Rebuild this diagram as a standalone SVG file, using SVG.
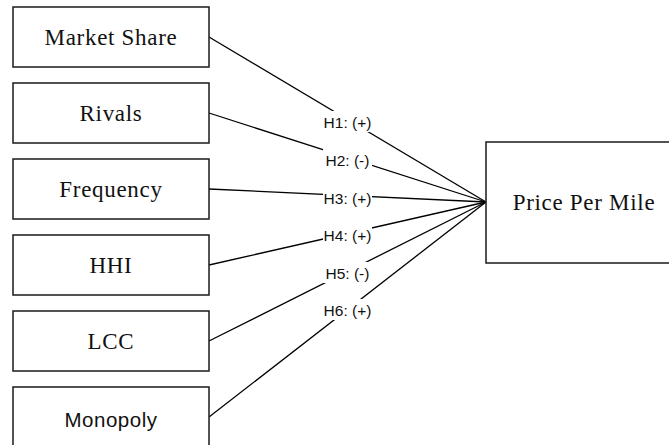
<svg xmlns="http://www.w3.org/2000/svg" width="669" height="445" viewBox="0 0 669 445">
<style>
.box{fill:#fff;stroke:#1a1a1a;stroke-width:1.5}
.t{font-family:"Liberation Serif","Times New Roman",serif;font-size:23px;letter-spacing:0.7px;text-anchor:middle;fill:#111}
.s{font-family:"Liberation Sans",Arial,sans-serif;font-size:20.5px;letter-spacing:0.5px;text-anchor:middle;fill:#111}
.c{stroke:#000;stroke-width:1.3;fill:none}
.lb{fill:#fff}
.l{font-family:"Liberation Sans",Arial,sans-serif;font-size:15.5px;text-anchor:middle;fill:#111}
</style>
<rect width="669" height="445" fill="#fff"/>
<g id="connectors">
<line class="c" x1="209" y1="37" x2="486" y2="202"/>
<line class="c" x1="209" y1="113" x2="486" y2="202"/>
<line class="c" x1="209" y1="189" x2="486" y2="202"/>
<line class="c" x1="209" y1="265" x2="486" y2="202"/>
<line class="c" x1="209" y1="341" x2="486" y2="202"/>
<line class="c" x1="209" y1="417" x2="486" y2="202"/>
<rect class="lb" x="323" y="111" width="49" height="21"/>
<rect class="lb" x="323" y="149" width="49" height="21"/>
<rect class="lb" x="323" y="187" width="49" height="21"/>
<rect class="lb" x="323" y="224" width="49" height="21"/>
<rect class="lb" x="323" y="262" width="49" height="21"/>
<rect class="lb" x="323" y="299" width="49" height="21"/>
<text class="l" x="347.5" y="127.5">H1: (+)</text>
<text class="l" x="347.5" y="165.5">H2: (-)</text>
<text class="l" x="347.5" y="203.5">H3: (+)</text>
<text class="l" x="347.5" y="240.5">H4: (+)</text>
<text class="l" x="347.5" y="278.5">H5: (-)</text>
<text class="l" x="347.5" y="315.5">H6: (+)</text>
</g>
<g id="market-share"><rect class="box" x="13" y="7" width="196" height="60"/><text class="t" x="111" y="44.5">Market Share</text></g>
<g id="rivals"><rect class="box" x="13" y="83" width="196" height="60"/><text class="t" x="111" y="120.5">Rivals</text></g>
<g id="frequency"><rect class="box" x="13" y="159" width="196" height="60"/><text class="t" x="111" y="196.5">Frequency</text></g>
<g id="hhi"><rect class="box" x="13" y="235" width="196" height="60"/><text class="t" x="111" y="272.5">HHI</text></g>
<g id="lcc"><rect class="box" x="13" y="311" width="196" height="60"/><text class="t" x="111" y="348.5">LCC</text></g>
<g id="monopoly"><rect class="box" x="13" y="387" width="196" height="62"/><text class="s" x="111" y="427">Monopoly</text></g>
<g id="price-per-mile"><rect class="box" x="486" y="142" width="196" height="121"/><text class="t" x="584" y="210">Price Per Mile</text></g>
</svg>
